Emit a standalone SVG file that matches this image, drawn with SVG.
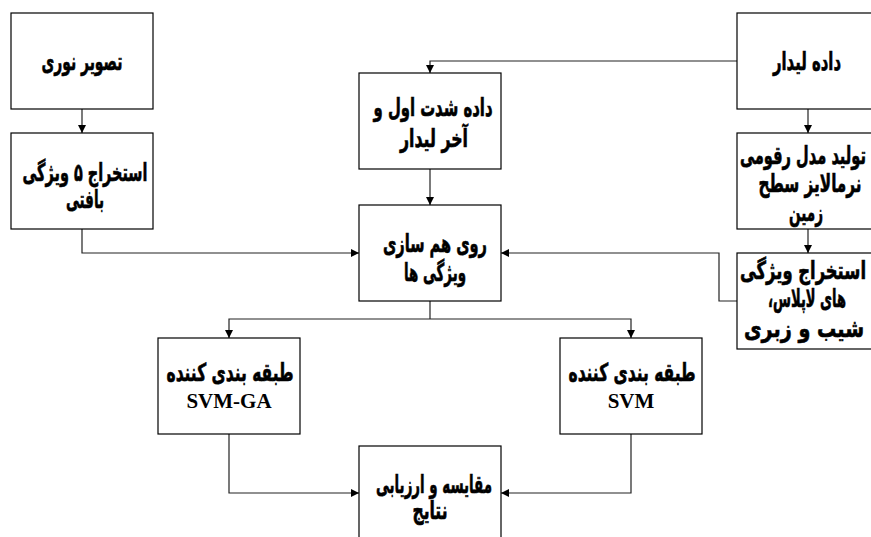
<svg xmlns="http://www.w3.org/2000/svg" width="871" height="537" viewBox="0 0 871 537">
<style>
.box{fill:#fff;stroke:#000;stroke-width:1.2}
.fa{font-family:"DejaVu Sans",sans-serif;font-weight:bold;font-size:19px;fill:#000;stroke:#000;stroke-width:0.5;text-anchor:middle;direction:rtl}
.en{font-family:"Liberation Serif",serif;font-weight:bold;font-size:21px;fill:#000;text-anchor:middle}
.ln{fill:none;stroke:#222;stroke-width:1.2}
</style>
<defs>
<marker id="ah" viewBox="0 0 8 8" refX="8" refY="4" markerWidth="8" markerHeight="8" markerUnits="userSpaceOnUse" orient="auto">
<path d="M0,0 L8,4 L0,8 Z" fill="#000"/>
</marker>
</defs>
<rect width="871" height="537" fill="#fff"/>
<g id="connectors">
<path class="ln" d="M82,109 V133" marker-end="url(#ah)"/>
<path class="ln" d="M737,61 H430 V73" marker-end="url(#ah)"/>
<path class="ln" d="M430,169 V205" marker-end="url(#ah)"/>
<path class="ln" d="M808,109 V133" marker-end="url(#ah)"/>
<path class="ln" d="M808,229 V253" marker-end="url(#ah)"/>
<path class="ln" d="M82,229 V253 H359" marker-end="url(#ah)"/>
<path class="ln" d="M737,301 H719 V253 H501" marker-end="url(#ah)"/>
<path class="ln" d="M430,301 V319"/>
<path class="ln" d="M430,319 H229 V338" marker-end="url(#ah)"/>
<path class="ln" d="M430,319 H631 V338" marker-end="url(#ah)"/>
<path class="ln" d="M229,434 V493 H359" marker-end="url(#ah)"/>
<path class="ln" d="M631,434 V493 H501" marker-end="url(#ah)"/>
</g>
<g id="n1"><rect class="box" x="11" y="13" width="142" height="96"/><text class="fa" transform="translate(82,70) scale(1,1.3)" textLength="81" lengthAdjust="spacingAndGlyphs">تصویر نوری</text></g>
<g id="n2"><rect class="box" x="11" y="133" width="142" height="96"/><text class="fa" transform="translate(85,181) scale(1,1.3)" textLength="125" lengthAdjust="spacingAndGlyphs">استخراج ۵ ویژگی</text><text class="fa" transform="translate(85,208) scale(1,1.3)" textLength="38" lengthAdjust="spacingAndGlyphs">بافتی</text></g>
<g id="n3"><rect class="box" x="359" y="73" width="142" height="96"/><text class="fa" transform="translate(433,116) scale(1,1.3)" textLength="119" lengthAdjust="spacingAndGlyphs">داده شدت اول و</text><text class="fa" transform="translate(434,147) scale(1,1.3)" textLength="68" lengthAdjust="spacingAndGlyphs">آخر لیدار</text></g>
<g id="n4"><rect class="box" x="359" y="205" width="142" height="96"/><text class="fa" transform="translate(435,252) scale(1,1.3)" textLength="104" lengthAdjust="spacingAndGlyphs">روی هم سازی</text><text class="fa" transform="translate(435,281) scale(1,1.3)" textLength="62" lengthAdjust="spacingAndGlyphs">ویژگی ها</text></g>
<g id="n5"><rect class="box" x="737" y="13" width="142" height="96"/><text class="fa" transform="translate(807,70) scale(1,1.3)" textLength="68" lengthAdjust="spacingAndGlyphs">داده لیدار</text></g>
<g id="n6"><rect class="box" x="737" y="133" width="142" height="96"/><text class="fa" transform="translate(803,164) scale(1,1.3)" textLength="126" lengthAdjust="spacingAndGlyphs">تولید مدل رقومی</text><text class="fa" transform="translate(810,192) scale(1,1.3)" textLength="103" lengthAdjust="spacingAndGlyphs">نرمالایز سطح</text><text class="fa" transform="translate(806,221) scale(1,1.3)" textLength="34" lengthAdjust="spacingAndGlyphs">زمین</text></g>
<g id="n7"><rect class="box" x="737" y="253" width="142" height="96"/><text class="fa" transform="translate(803,279) scale(1,1.3)" textLength="126" lengthAdjust="spacingAndGlyphs">استخراج ویژگی</text><text class="fa" transform="translate(807,307) scale(1,1.3)" textLength="78" lengthAdjust="spacingAndGlyphs">های لاپلاس،</text><text class="fa" transform="translate(804,337) scale(1,1.3)" textLength="120" lengthAdjust="spacingAndGlyphs">شیب و زبری</text></g>
<g id="n8"><rect class="box" x="158" y="338" width="142" height="96"/><text class="fa" transform="translate(230,381) scale(1,1.3)" textLength="127" lengthAdjust="spacingAndGlyphs">طبقه بندی کننده</text><text class="en" x="229" y="408">SVM-GA</text></g>
<g id="n9"><rect class="box" x="560" y="338" width="142" height="96"/><text class="fa" transform="translate(632,381) scale(1,1.3)" textLength="127" lengthAdjust="spacingAndGlyphs">طبقه بندی کننده</text><text class="en" x="631" y="408">SVM</text></g>
<g id="n10"><rect class="box" x="359" y="446" width="142" height="96"/><text class="fa" transform="translate(434,493) scale(1,1.3)" textLength="116" lengthAdjust="spacingAndGlyphs">مقایسه و ارزیابی</text><text class="fa" transform="translate(430,519) scale(1,1.3)" textLength="35" lengthAdjust="spacingAndGlyphs">نتایج</text></g>
</svg>
